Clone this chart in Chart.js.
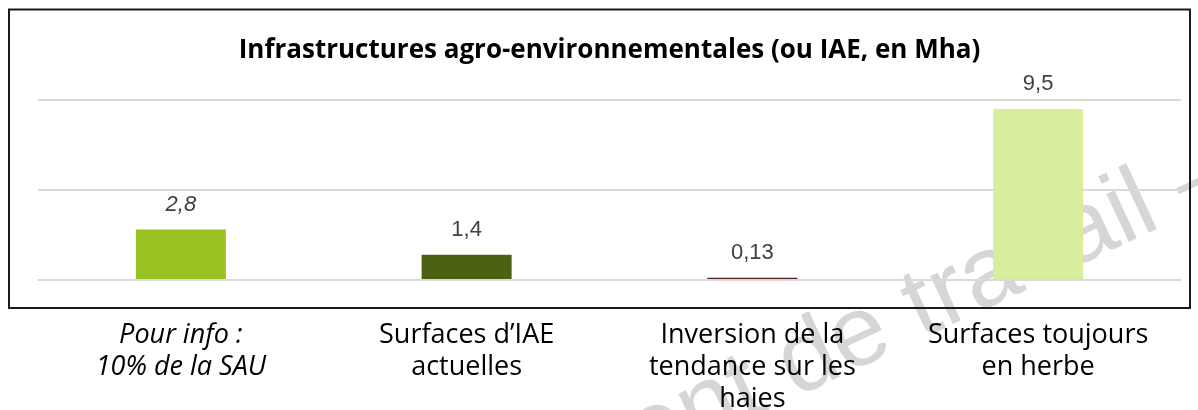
<!DOCTYPE html>
<html lang="fr">
<head>
<meta charset="utf-8">
<script src="https://cdn.jsdelivr.net/npm/chart.js@4"></script>
<style>
  html, body { margin: 0; padding: 0; background: #fff; }
  canvas { display: block; }
</style>
</head>
<body>
<canvas id="myChart" width="1198" height="410"></canvas>
<script>
const titre = "Infrastructures agro-environnementales (ou IAE, en Mha)";

const categories = [
    ["Pour info :", "10% de la SAU"],
    ["Surfaces d’IAE", "actuelles"],
    ["Inversion de la", "tendance sur les", "haies"],
    ["Surfaces toujours", "en herbe"],
];
const valeurs = [2.8, 1.4, 0.13, 9.5];
const couleurs = ["#9ac222", "#4d6112", "#5e2020", "#d9ee9c"];
const yMax = 10;
const yStep = 5;

const filigrane = "Document de travail";

// cadre noir autour du titre et de la zone de tracé
const cadre = {
    id: "cadre",
    afterDraw(chart) {
        const { ctx, chartArea } = chart;
        ctx.save();
        ctx.strokeStyle = "#1a1a1a";
        ctx.lineWidth = 2;
        ctx.strokeRect(chartArea.left - 29, 9.5, chartArea.right - chartArea.left + 38, chartArea.bottom + 28 - 9.5);
        ctx.restore();
    },
};

// filigrane gris en diagonale, sous tout le reste
const watermark = {
    id: "watermark",
    beforeDraw(chart) {
        const ctx = chart.ctx;
        ctx.save();
        ctx.font = '100px "Liberation Sans", Arial, sans-serif';
        ctx.fillStyle = "#d6d6d6";
        ctx.textBaseline = "alphabetic";
        ctx.translate(1163, 226);
        ctx.rotate(-25 * Math.PI / 180);
        const w = ctx.measureText(filigrane).width;
        ctx.fillText(filigrane + " –", -w, 0);
        ctx.restore();
    },
};

// valeurs au-dessus des barres
const etiquettes = {
    id: "etiquettes",
    afterDatasetsDraw(chart) {
        const ctx = chart.ctx;
        const meta = chart.getDatasetMeta(0);
        ctx.save();
        ctx.fillStyle = "#404040";
        ctx.textAlign = "center";
        ctx.textBaseline = "middle";
        meta.data.forEach((bar, i) => {
            const style = i === 0 ? "italic " : "";
            ctx.font = style + '22px "Liberation Sans", Arial, sans-serif';
            const txt = String(valeurs[i]).replace(".", ",");
            ctx.fillText(txt, bar.x, bar.y - 25);
        });
        ctx.restore();
    },
};

const ctx = document.getElementById("myChart");

new Chart(ctx, {
    type: "bar",
    data: {
        labels: categories,
        datasets: [
            {
                data: valeurs,
                backgroundColor: couleurs,
                borderWidth: 0,
                barPercentage: 0.315,
                categoryPercentage: 1,
            },
        ],
    },
    options: {
        responsive: false,
        animation: false,
        layout: {
            padding: { top: 8, left: 38, right: 17, bottom: 0 },
        },
        scales: {
            x: {
                grid: { display: false, drawTicks: false },
                border: { display: false },
                ticks: {
                    color: "#000",
                    padding: 40,
                    maxRotation: 0,
                    autoSkip: false,
                    font: (c) => ({
                        family: '"Open Sans", sans-serif',
                        size: 27,
                        lineHeight: 1.17,
                        style: c.index === 0 ? "italic" : "normal",
                    }),
                },
                afterFit: (axis) => {
                    axis.height = 130;
                },
            },
            y: {
                min: 0,
                max: yMax,
                ticks: { display: false, stepSize: yStep },
                grid: { color: "#d9d9d9", lineWidth: 2, drawTicks: false },
                border: { display: false },
                afterFit: (axis) => {
                    axis.width = 0;
                },
            },
        },
        plugins: {
            legend: { display: false },
            tooltip: { enabled: false },
            title: {
                display: true,
                text: titre,
                color: "#000",
                font: { family: '"Open Sans", sans-serif', size: 26, weight: "bold", lineHeight: 1.2 },
                padding: { top: 27.4, bottom: 33.4 },
            },
        },
    },
    plugins: [watermark, etiquettes, cadre],
});
</script>
</body>
</html>
